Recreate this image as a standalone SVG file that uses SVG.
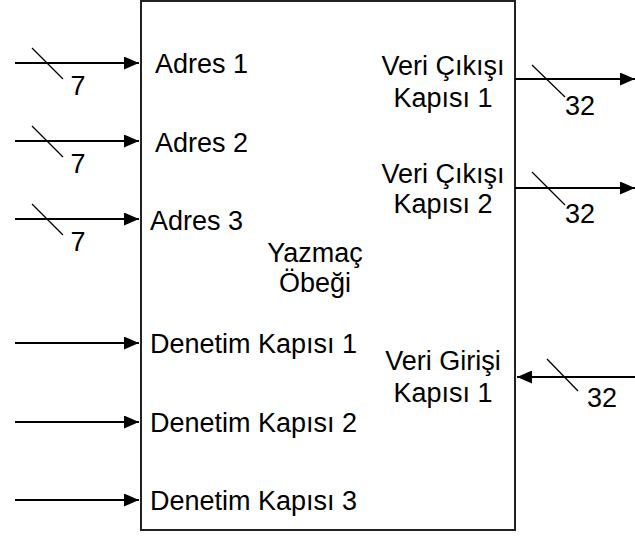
<svg xmlns="http://www.w3.org/2000/svg" width="635" height="536" viewBox="0 0 635 536">
  <style>
    .box { fill: #ffffff; stroke: #222222; stroke-width: 2; }
    .wire { fill: none; stroke: #000000; stroke-width: 2; }
    .bus { fill: none; stroke: #000000; stroke-width: 1.3; }
    .lbl { font-family: "Liberation Sans", Arial, Helvetica, sans-serif; font-size: 27px; fill: #000000; }
    .mid { text-anchor: middle; }
  </style>
  <defs>
    <marker id="arrow" viewBox="0 0 15 13" refX="15" refY="6.5" markerWidth="15" markerHeight="13" markerUnits="userSpaceOnUse" orient="auto">
      <path d="M0,0 L15,6.5 L0,13 Z" fill="#000000"/>
    </marker>
  </defs>

  <rect width="635" height="536" fill="#ffffff"/>

  <!-- register file block -->
  <g id="register-file">
    <rect class="box" x="141" y="1" width="374" height="529"/>
    <text class="lbl mid" x="315" y="262">Yazmaç</text>
    <text class="lbl mid" x="315" y="292">Öbeği</text>
  </g>

  <!-- port labels inside the block -->
  <g id="port-adres-1"><text class="lbl" x="155" y="73">Adres 1</text></g>
  <g id="port-adres-2"><text class="lbl" x="155" y="152">Adres 2</text></g>
  <g id="port-adres-3"><text class="lbl" x="150" y="230">Adres 3</text></g>
  <g id="port-denetim-1"><text class="lbl" x="150" y="353">Denetim Kapısı 1</text></g>
  <g id="port-denetim-2"><text class="lbl" x="150" y="432">Denetim Kapısı 2</text></g>
  <g id="port-denetim-3"><text class="lbl" x="150" y="510">Denetim Kapısı 3</text></g>
  <g id="port-veri-cikisi-1">
    <text class="lbl mid" x="443" y="75">Veri Çıkışı</text>
    <text class="lbl mid" x="443" y="107">Kapısı 1</text>
  </g>
  <g id="port-veri-cikisi-2">
    <text class="lbl mid" x="443" y="183">Veri Çıkışı</text>
    <text class="lbl mid" x="443" y="213">Kapısı 2</text>
  </g>
  <g id="port-veri-girisi-1">
    <text class="lbl mid" x="443" y="370">Veri Girişi</text>
    <text class="lbl mid" x="443" y="402">Kapısı 1</text>
  </g>

  <!-- connectors -->
  <g id="connectors">
    <!-- address buses (7 bits) -->
    <line class="wire" x1="15" y1="63" x2="139" y2="63" marker-end="url(#arrow)"/>
    <line class="bus" x1="32" y1="48" x2="63" y2="79"/>
    <text class="lbl mid" x="78" y="95">7</text>

    <line class="wire" x1="15" y1="141" x2="139" y2="141" marker-end="url(#arrow)"/>
    <line class="bus" x1="32" y1="126" x2="63" y2="157"/>
    <text class="lbl mid" x="78" y="173">7</text>

    <line class="wire" x1="15" y1="219" x2="139" y2="219" marker-end="url(#arrow)"/>
    <line class="bus" x1="32" y1="204" x2="63" y2="235"/>
    <text class="lbl mid" x="78" y="251">7</text>

    <!-- control lines -->
    <line class="wire" x1="15" y1="343" x2="139" y2="343" marker-end="url(#arrow)"/>
    <line class="wire" x1="15" y1="422" x2="139" y2="422" marker-end="url(#arrow)"/>
    <line class="wire" x1="15" y1="500" x2="139" y2="500" marker-end="url(#arrow)"/>

    <!-- data out buses (32 bits) -->
    <line class="wire" x1="515" y1="79" x2="635" y2="79" marker-end="url(#arrow)"/>
    <line class="bus" x1="532" y1="65" x2="565" y2="97"/>
    <text class="lbl mid" x="580" y="115">32</text>

    <line class="wire" x1="515" y1="188" x2="635" y2="188" marker-end="url(#arrow)"/>
    <line class="bus" x1="532" y1="172" x2="565" y2="205"/>
    <text class="lbl mid" x="580" y="223">32</text>

    <!-- data in bus (32 bits) -->
    <line class="wire" x1="635" y1="377" x2="517" y2="377" marker-end="url(#arrow)"/>
    <line class="bus" x1="547" y1="359" x2="578" y2="391"/>
    <text class="lbl mid" x="602" y="407">32</text>
  </g>
</svg>
